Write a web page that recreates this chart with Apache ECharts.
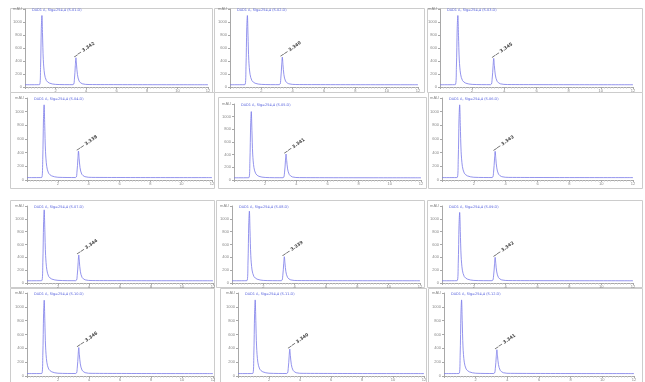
<!DOCTYPE html>
<html><head><meta charset="utf-8">
<script src="https://cdn.jsdelivr.net/npm/echarts@6/dist/echarts.min.js"></script>
<style>html,body{margin:0;padding:0;background:#fff}#c{width:645px;height:382px}</style>
</head><body><div id="c"></div>
<script>
// ---- data ----
const times = [0, 0.95, 1.02, 1.07, 1.11, 1.15, 1.2, 1.28, 1.4, 1.6, 2.0, 3.15, 3.24, 3.3, 3.34, 3.38, 3.44, 3.55, 3.75, 4.2, 12];
const apexIndex = 14;
const xTicks = [2, 4, 6, 8, 10, 12];
const yTicks = [0, 200, 400, 600, 800, 1000];
const titles = [
  "DAD1 A, Sig=254,4 (S-01.D)", "DAD1 A, Sig=254,4 (S-02.D)", "DAD1 A, Sig=254,4 (S-03.D)",
  "DAD1 A, Sig=254,4 (S-04.D)", "DAD1 A, Sig=254,4 (S-05.D)", "DAD1 A, Sig=254,4 (S-06.D)",
  "DAD1 A, Sig=254,4 (S-07.D)", "DAD1 A, Sig=254,4 (S-08.D)", "DAD1 A, Sig=254,4 (S-09.D)",
  "DAD1 A, Sig=254,4 (S-10.D)", "DAD1 A, Sig=254,4 (S-11.D)", "DAD1 A, Sig=254,4 (S-12.D)"
];
const peakLabels = ["3.342", "3.340", "3.345", "3.338", "3.341", "3.343", "3.344", "3.339", "3.342", "3.346", "3.340", "3.341"];
const sig01 = [35, 36, 300, 900, 1100, 800, 420, 200, 100, 60, 40, 36, 120, 330, 450, 340, 190, 90, 50, 38, 35];
const sig02 = [35, 36, 310, 910, 1100, 790, 410, 195, 98, 58, 40, 36, 125, 340, 460, 345, 190, 88, 50, 38, 35];
const sig03 = [35, 36, 305, 905, 1100, 795, 415, 198, 99, 59, 40, 36, 118, 320, 440, 330, 185, 88, 49, 38, 35];
const sig04 = [35, 36, 300, 900, 1100, 800, 420, 200, 100, 60, 40, 36, 115, 310, 423, 318, 180, 86, 49, 38, 35];
const sig05 = [35, 36, 295, 885, 1080, 785, 410, 195, 98, 58, 40, 36, 112, 300, 410, 310, 175, 85, 48, 38, 35];
const sig06 = [35, 36, 300, 900, 1100, 800, 420, 200, 100, 60, 40, 36, 115, 308, 420, 316, 178, 86, 49, 38, 35];
const sig07 = [35, 36, 315, 935, 1140, 830, 430, 205, 102, 61, 41, 36, 118, 318, 437, 328, 184, 88, 49, 38, 35];
const sig08 = [35, 36, 310, 920, 1120, 815, 425, 202, 101, 60, 40, 36, 112, 300, 410, 310, 175, 85, 48, 38, 35];
const sig09 = [35, 36, 300, 900, 1100, 800, 420, 200, 100, 60, 40, 36, 110, 294, 400, 302, 172, 84, 48, 38, 35];
const sig10 = [35, 36, 300, 898, 1096, 798, 418, 199, 100, 60, 40, 36, 112, 302, 411, 309, 175, 85, 48, 38, 35];
const sig11 = [35, 36, 300, 900, 1100, 800, 420, 200, 100, 60, 40, 36, 108, 286, 390, 294, 168, 83, 47, 38, 35];
const sig12 = [35, 36, 300, 900, 1100, 800, 420, 200, 100, 60, 40, 36, 106, 280, 380, 288, 165, 82, 47, 38, 35];
const signals = [sig01, sig02, sig03, sig04, sig05, sig06, sig07, sig08, sig09, sig10, sig11, sig12];

// ---- layout (style) ----
const layout = [
  {f: [10, 8, 212, 92],   p: [25, 9, 183, 78]},
  {f: [214, 8, 424, 92],  p: [230, 9, 188, 78]},
  {f: [427, 8, 642, 92],  p: [440, 9, 193, 78]},
  {f: [10, 92, 214, 188], p: [27, 98, 185, 82]},
  {f: [218, 97, 426, 188],p: [234, 104, 187, 76]},
  {f: [428, 92, 642, 188],p: [442, 98, 191, 82]},
  {f: [10, 200, 214, 287],p: [27, 206, 186, 77]},
  {f: [216, 200, 424, 287],p: [232, 206, 188, 77]},
  {f: [427, 200, 642, 287],p: [442, 206, 191, 77]},
  {f: [10, 288, 214, 382],p: [27, 293, 186, 84]},
  {f: [220, 288, 426, 382],p: [238, 293, 186, 84]},
  {f: [428, 288, 642, 382],p: [444, 293, 190, 84]}
];

const grid = [], xAxis = [], yAxis = [], series = [], graphic = [], title = [];
const axisGray = '#a8a8a8';
layout.forEach((L, i) => {
  graphic.push({type: 'rect', silent: true, z: -1,
    shape: {x: L.f[0] + 0.5, y: L.f[1] + 0.5, width: L.f[2] - L.f[0], height: L.f[3] - L.f[1]},
    style: {fill: '#fff', stroke: '#cccccc', lineWidth: 1}});
  grid.push({left: L.p[0], top: L.p[1], width: L.p[2], height: L.p[3], show: false});
  title.push({text: titles[i], left: L.p[0] + 2, top: L.p[1] - 6,
    textStyle: {fontSize: 3.5, color: '#5560dd', fontWeight: 'normal', fontFamily: 'DejaVu Sans'}});
  xAxis.push({type: 'value', gridIndex: i, min: 0, max: 12, interval: 2,
    axisLine: {lineStyle: {color: axisGray, width: 1}},
    axisTick: {show: true, length: 2, lineStyle: {color: axisGray}},
    minorTick: {show: true, splitNumber: 10, length: 1.5, lineStyle: {color: '#c4c4c4'}},
    splitLine: {show: false},
    axisLabel: {fontSize: 4, color: '#888', margin: 2, formatter: v => (xTicks.indexOf(v) >= 0 ? String(v) : '')}});
  yAxis.push({type: 'value', gridIndex: i, min: 0, max: 1200, interval: 200,
    axisLine: {show: true, lineStyle: {color: axisGray, width: 1}},
    axisTick: {show: true, length: 2, lineStyle: {color: axisGray}},
    splitLine: {show: false},
    axisLabel: {fontSize: 4, color: '#888', margin: 3, formatter: v => (yTicks.indexOf(v) >= 0 ? String(v) : 'mAU')}});
  const sig = signals[i];
  series.push({type: 'line', xAxisIndex: i, yAxisIndex: i, data: times.map((t, k) => [t, sig[k]]),
    showSymbol: false, smooth: 0.3, lineStyle: {color: '#7878e8', width: 0.8}, silent: true, animation: false,
    markPoint: {
      symbol: 'circle', symbolSize: 1, itemStyle: {color: 'rgba(0,0,0,0)'}, silent: true, animation: false,
      label: {show: true, formatter: '—— ' + peakLabels[i], rotate: 35, position: [0, 2], align: 'left',
        verticalAlign: 'bottom', fontSize: 4.5, color: '#444', fontWeight: 'bold', fontFamily: 'DejaVu Sans'},
      data: [{coord: [times[apexIndex], sig[apexIndex]]}]
    }});
});

const chart = echarts.init(document.getElementById('c'), null, {renderer: 'canvas'});
chart.setOption({backgroundColor: '#fff', animation: false, title, grid, xAxis, yAxis, series, graphic});
</script></body></html>
